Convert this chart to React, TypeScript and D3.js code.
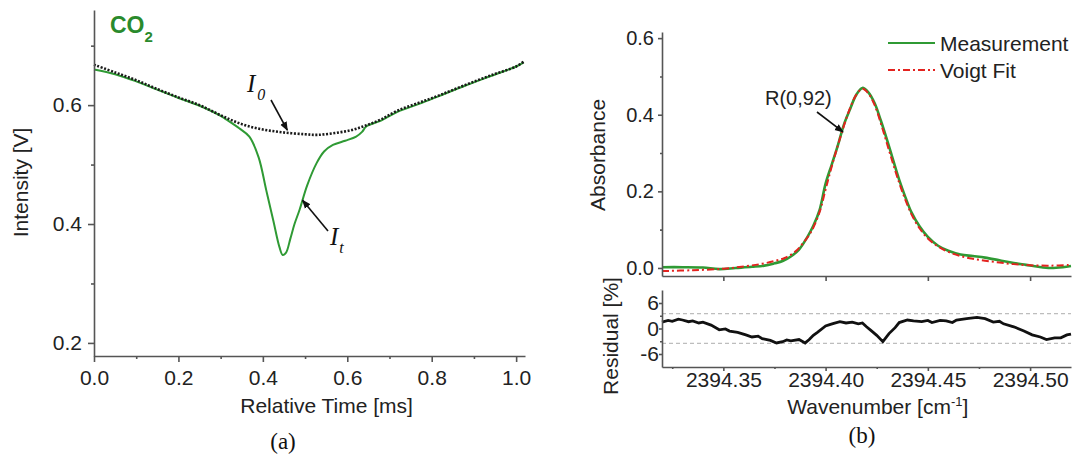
import React, { useEffect, useRef } from 'react';
import * as d3 from 'd3';

// panel (a): transmitted intensity vs relative time
const timeI0 = [0, 0.05, 0.1, 0.15, 0.2, 0.25, 0.3, 0.35, 0.4, 0.45, 0.5, 0.53, 0.57, 0.61, 0.645, 0.68, 0.72, 0.77, 0.82, 0.88, 0.94, 1.0, 1.018];
const valI0 = [0.668, 0.655, 0.642, 0.627, 0.613, 0.6, 0.583, 0.568, 0.559, 0.554, 0.551, 0.55, 0.553, 0.558, 0.566, 0.576, 0.591, 0.604, 0.617, 0.634, 0.65, 0.665, 0.673];
const timeIt = [0, 0.05, 0.1, 0.15, 0.2, 0.25, 0.3, 0.313, 0.344, 0.368, 0.39, 0.408, 0.425, 0.439, 0.447, 0.455, 0.465, 0.475, 0.487, 0.505, 0.527, 0.545, 0.566, 0.595, 0.621, 0.635, 0.645, 0.68, 0.72, 0.77, 0.82, 0.88, 0.94, 1.0, 1.018];
const valIt = [0.66, 0.652, 0.64, 0.626, 0.612, 0.599, 0.582, 0.576, 0.561, 0.547, 0.512, 0.457, 0.405, 0.362, 0.348, 0.352, 0.375, 0.4, 0.424, 0.465, 0.502, 0.522, 0.533, 0.54, 0.547, 0.555, 0.564, 0.574, 0.589, 0.602, 0.616, 0.633, 0.649, 0.665, 0.672];
const timeTicks = [0, 0.2, 0.4, 0.6, 0.8, 1.0];
const timeMinor = [0.1, 0.3, 0.5, 0.7, 0.9];
const intensityTicks = [0.2, 0.4, 0.6];
const intensityMinor = [0.3, 0.5, 0.7];

// panel (b): absorbance line and fit
const wnMeas = [2394.32, 2394.33, 2394.34, 2394.348, 2394.356, 2394.364, 2394.37, 2394.375, 2394.379, 2394.383, 2394.387, 2394.391, 2394.394, 2394.397, 2394.4, 2394.403, 2394.406, 2394.409, 2394.412, 2394.415, 2394.418, 2394.421, 2394.424, 2394.427, 2394.43, 2394.433, 2394.436, 2394.439, 2394.442, 2394.446, 2394.45, 2394.455, 2394.46, 2394.466, 2394.472, 2394.478, 2394.485, 2394.492, 2394.498, 2394.504, 2394.51, 2394.516, 2394.52];
const absMeas = [0.002, 0.002, 0.001, -0.003, 0.0, 0.003, 0.006, 0.012, 0.018, 0.03, 0.048, 0.08, 0.11, 0.15, 0.22, 0.27, 0.32, 0.375, 0.415, 0.452, 0.47, 0.458, 0.43, 0.385, 0.335, 0.282, 0.23, 0.185, 0.145, 0.108, 0.081, 0.058, 0.045, 0.035, 0.031, 0.027, 0.02, 0.013, 0.008, 0.003, 0.0, 0.002, 0.005];
const wnFit = [2394.32, 2394.335, 2394.35, 2394.36, 2394.368, 2394.375, 2394.38, 2394.385, 2394.389, 2394.393, 2394.397, 2394.4, 2394.403, 2394.406, 2394.409, 2394.412, 2394.415, 2394.418, 2394.421, 2394.424, 2394.427, 2394.43, 2394.433, 2394.436, 2394.439, 2394.442, 2394.446, 2394.45, 2394.455, 2394.46, 2394.466, 2394.472, 2394.478, 2394.485, 2394.492, 2394.5, 2394.51, 2394.52];
const absFit = [-0.008, -0.006, -0.002, 0.004, 0.01, 0.018, 0.026, 0.042, 0.065, 0.095, 0.145, 0.205, 0.265, 0.32, 0.372, 0.418, 0.452, 0.468, 0.455, 0.425, 0.378, 0.325, 0.272, 0.222, 0.178, 0.14, 0.103, 0.077, 0.056, 0.042, 0.031, 0.024, 0.019, 0.014, 0.01, 0.007, 0.006, 0.008];
const absTicks = [0, 0.2, 0.4, 0.6];
const absMinor = [0.1, 0.3, 0.5];

// residual
const wnRes = [2394.32, 2394.323, 2394.325, 2394.328, 2394.33, 2394.333, 2394.335, 2394.338, 2394.34, 2394.344, 2394.348, 2394.351, 2394.353, 2394.357, 2394.361, 2394.364, 2394.367, 2394.369, 2394.373, 2394.376, 2394.379, 2394.381, 2394.383, 2394.387, 2394.39, 2394.392, 2394.394, 2394.396, 2394.4, 2394.402, 2394.404, 2394.407, 2394.41, 2394.413, 2394.416, 2394.418, 2394.42, 2394.422, 2394.425, 2394.428, 2394.431, 2394.434, 2394.436, 2394.44, 2394.443, 2394.447, 2394.45, 2394.452, 2394.456, 2394.459, 2394.462, 2394.464, 2394.469, 2394.474, 2394.478, 2394.482, 2394.485, 2394.487, 2394.492, 2394.497, 2394.501, 2394.505, 2394.508, 2394.512, 2394.515, 2394.518, 2394.52];
const resVals = [1.5, 1.9, 1.7, 2.2, 2.0, 1.6, 1.8, 1.3, 1.5, 0.8, -0.3, -0.1, -0.6, -0.9, -1.5, -2.0, -1.8, -2.4, -2.8, -3.4, -3.1, -2.7, -2.9, -2.6, -3.4, -2.6, -1.6, -0.9, 0.6, 0.9, 1.2, 1.6, 1.3, 1.5, 1.1, 1.3, 0.4, -0.4, -1.6, -3.1, -1.2, 0.2, 1.4, 2.0, 1.8, 1.6, 1.9, 1.4, 1.9, 1.8, 1.4, 2.0, 2.3, 2.6, 2.3, 1.5, 1.7, 1.1, 0.4, -0.6, -1.5, -2.0, -2.6, -2.2, -2.2, -1.5, -1.3];
const resTicks = [-6, 0, 6];
const resMinor = [-3, 3];
const resBands = [-3.5, 3.5];
const wnTicks = [2394.35, 2394.4, 2394.45, 2394.5];
const wnMinor = [2394.325, 2394.375, 2394.425, 2394.475];
const legendNames = ['Measurement', 'Voigt Fit'];

const GREEN = '#2f9a34';
const RED = '#e3231f';
const AXIS = '#555';
const FONT = 'Liberation Sans, Arial, sans-serif';
const SERIF = 'Liberation Serif, Times New Roman, serif';

const App = () => {
  const ref = useRef<SVGSVGElement>(null);

  useEffect(() => {
    const svg = d3.select(ref.current);
    svg.selectAll('*').remove();

    const defs = svg.append('defs');
    defs.append('marker')
      .attr('id', 'arrow')
      .attr('viewBox', '0 0 10 10')
      .attr('refX', 9).attr('refY', 5)
      .attr('markerWidth', 9).attr('markerHeight', 9)
      .attr('markerUnits', 'userSpaceOnUse')
      .attr('orient', 'auto')
      .append('path').attr('d', 'M0,1 L10,5 L0,9 Z').attr('fill', '#111');

    const styleAxis = (g: any, size: number) => {
      g.select('.domain').attr('stroke', AXIS).attr('stroke-width', 1.6);
      g.selectAll('.tick line').attr('stroke', AXIS).attr('stroke-width', 1.6);
      g.selectAll('.tick text').attr('fill', '#222').style('font-family', FONT).style('font-size', size + 'px');
    };

    // ---------- panel (a) ----------
    const xA = d3.scaleLinear().domain([0, 1.021]).range([94, 525]);
    const yA = d3.scaleLinear().domain([0.178, 0.76]).range([356, 10]);

    const lineA = d3.line<[number, number]>().x(d => xA(d[0])).y(d => yA(d[1])).curve(d3.curveCatmullRom);

    svg.append('path')
      .datum(timeIt.map((t, i) => [t, valIt[i]] as [number, number]))
      .attr('fill', 'none').attr('stroke', GREEN).attr('stroke-width', 2)
      .attr('d', lineA);
    svg.append('path')
      .datum(timeI0.map((t, i) => [t, valI0[i]] as [number, number]))
      .attr('fill', 'none').attr('stroke', '#1a1a1a').attr('stroke-width', 2.6)
      .attr('stroke-dasharray', '2,1.6')
      .attr('d', lineA);

    const axA = svg.append('g').attr('transform', 'translate(0,356)')
      .call(d3.axisBottom(xA).tickValues(timeTicks).tickSize(6).tickSizeOuter(0).tickPadding(8).tickFormat(d3.format('.1f')));
    styleAxis(axA, 21);
    const axAm = svg.append('g').attr('transform', 'translate(0,356)')
      .call(d3.axisBottom(xA).tickValues(timeMinor).tickSize(3).tickSizeOuter(0).tickFormat(() => ''));
    styleAxis(axAm, 21);
    axAm.select('.domain').remove();

    const ayA = svg.append('g').attr('transform', 'translate(94,0)')
      .call(d3.axisLeft(yA).tickValues(intensityTicks).tickSize(6).tickSizeOuter(0).tickPadding(6).tickFormat(d3.format('.1f')));
    styleAxis(ayA, 21);
    const ayAm = svg.append('g').attr('transform', 'translate(94,0)')
      .call(d3.axisLeft(yA).tickValues(intensityMinor).tickSize(3).tickSizeOuter(0).tickFormat(() => ''));
    styleAxis(ayAm, 21);
    ayAm.select('.domain').remove();

    svg.append('text').attr('x', xA(0.551)).attr('y', 413).attr('text-anchor', 'middle')
      .style('font-family', FONT).style('font-size', '21px').attr('fill', '#222')
      .text('Relative Time [ms]');
    svg.append('text').attr('transform', `translate(28,${yA(0.47)}) rotate(-90)`).attr('text-anchor', 'middle')
      .style('font-family', FONT).style('font-size', '21px').attr('fill', '#222')
      .text('Intensity [V]');
    svg.append('text').attr('x', 283).attr('y', 449).attr('text-anchor', 'middle')
      .style('font-family', SERIF).style('font-size', '23px').attr('fill', '#111').text('(a)');

    const co2 = svg.append('text').attr('x', 110).attr('y', 33)
      .style('font-family', FONT).style('font-size', '23px').style('font-weight', 'bold').attr('fill', '#2a8a2c');
    co2.append('tspan').text('CO');
    co2.append('tspan').attr('dy', 9).style('font-size', '15px').text('2');

    // I0 annotation
    const i0 = svg.append('text').attr('x', 247).attr('y', 92)
      .style('font-family', SERIF).style('font-size', '25px').style('font-style', 'italic').attr('fill', '#111');
    i0.append('tspan').text('I');
    i0.append('tspan').attr('dx', 2).attr('dy', 8).style('font-size', '16px').text('0');
    svg.append('line').attr('x1', 271).attr('y1', 100).attr('x2', xA(0.458)).attr('y2', yA(0.558))
      .attr('stroke', '#111').attr('stroke-width', 1.6).attr('marker-end', 'url(#arrow)');

    // It annotation
    const it = svg.append('text').attr('x', 330).attr('y', 245)
      .style('font-family', SERIF).style('font-size', '25px').style('font-style', 'italic').attr('fill', '#111');
    it.append('tspan').text('I');
    it.append('tspan').attr('dx', 1).attr('dy', 8).style('font-size', '16px').text('t');
    svg.append('line').attr('x1', 328).attr('y1', 231).attr('x2', xA(0.494)).attr('y2', yA(0.44))
      .attr('stroke', '#111').attr('stroke-width', 1.6).attr('marker-end', 'url(#arrow)');

    // ---------- panel (b) top ----------
    const xB = d3.scaleLinear().domain([2394.32, 2394.52]).range([662, 1071]);
    const yB = d3.scaleLinear().domain([-0.021, 0.616]).range([276, 32]);
    const lineB = d3.line<[number, number]>().x(d => xB(d[0])).y(d => yB(d[1])).curve(d3.curveCatmullRom);

    svg.append('path')
      .datum(wnMeas.map((w, i) => [w, absMeas[i]] as [number, number]))
      .attr('fill', 'none').attr('stroke', GREEN).attr('stroke-width', 2.6)
      .attr('d', lineB);
    svg.append('path')
      .datum(wnFit.map((w, i) => [w, absFit[i]] as [number, number]))
      .attr('fill', 'none').attr('stroke', RED).attr('stroke-width', 2)
      .attr('stroke-dasharray', '7,3,2,3')
      .attr('d', lineB);

    const axB = svg.append('g').attr('transform', 'translate(0,276)')
      .call(d3.axisBottom(xB).tickValues(wnTicks).tickSize(5).tickSizeOuter(0).tickFormat(() => ''));
    styleAxis(axB, 21);
    const ayB = svg.append('g').attr('transform', 'translate(662,0)')
      .call(d3.axisLeft(yB).tickValues(absTicks).tickSize(4).tickSizeOuter(0).tickPadding(4).tickFormat(d3.format('.1f')));
    styleAxis(ayB, 20);
    const ayBm = svg.append('g').attr('transform', 'translate(662,0)')
      .call(d3.axisLeft(yB).tickValues(absMinor).tickSize(2).tickSizeOuter(0).tickFormat(() => ''));
    styleAxis(ayBm, 20);
    ayBm.select('.domain').remove();

    svg.append('text').attr('transform', `translate(605,${yB(0.295)}) rotate(-90)`).attr('text-anchor', 'middle')
      .style('font-family', FONT).style('font-size', '21px').attr('fill', '#222')
      .text('Absorbance');

    svg.append('text').attr('x', 765).attr('y', 105)
      .style('font-family', FONT).style('font-size', '20px').attr('fill', '#222').text('R(0,92)');
    svg.append('line').attr('x1', 817).attr('y1', 112).attr('x2', xB(2394.4085)).attr('y2', yB(0.355))
      .attr('stroke', '#111').attr('stroke-width', 1.6).attr('marker-end', 'url(#arrow)');

    // legend
    const legend = svg.append('g');
    legendNames.forEach((name, i) => {
      const ly = 43 + i * 27;
      legend.append('line').attr('x1', 888).attr('x2', 935).attr('y1', ly).attr('y2', ly)
        .attr('stroke', i === 0 ? GREEN : RED).attr('stroke-width', 2)
        .attr('stroke-dasharray', i === 0 ? null : '7,3,2,3');
      legend.append('text').attr('x', 940).attr('y', ly + 8)
        .style('font-family', FONT).style('font-size', '21px').attr('fill', '#222').text(name);
    });

    // ---------- panel (b) residual ----------
    const yR = d3.scaleLinear().domain([-9.06, 9.06]).range([367, 290]);

    resBands.forEach(v => {
      svg.append('line').attr('x1', 662).attr('x2', 1071).attr('y1', yR(v)).attr('y2', yR(v))
        .attr('stroke', '#bdbdbd').attr('stroke-width', 1.2).attr('stroke-dasharray', '4,3');
    });

    svg.append('path')
      .datum(wnRes.map((w, i) => [w, resVals[i]] as [number, number]))
      .attr('fill', 'none').attr('stroke', '#111').attr('stroke-width', 2.8)
      .attr('d', d3.line<[number, number]>().x(d => xB(d[0])).y(d => yR(d[1])));

    const axR = svg.append('g').attr('transform', 'translate(0,367)')
      .call(d3.axisBottom(xB).tickValues(wnTicks).tickSize(4).tickSizeOuter(0).tickPadding(1).tickFormat(d3.format('.2f')));
    styleAxis(axR, 21);
    const axRm = svg.append('g').attr('transform', 'translate(0,367)')
      .call(d3.axisBottom(xB).tickValues(wnMinor).tickSize(2).tickSizeOuter(0).tickFormat(() => ''));
    styleAxis(axRm, 21);
    axRm.select('.domain').remove();

    const ayR = svg.append('g').attr('transform', 'translate(662,0)')
      .call(d3.axisLeft(yR).tickValues(resTicks).tickSize(3).tickSizeOuter(0).tickPadding(0).tickFormat(d => String(d)));
    styleAxis(ayR, 21);
    const ayRm = svg.append('g').attr('transform', 'translate(662,0)')
      .call(d3.axisLeft(yR).tickValues(resMinor).tickSize(2).tickSizeOuter(0).tickFormat(() => ''));
    styleAxis(ayRm, 21);
    ayRm.select('.domain').remove();

    svg.append('text').attr('transform', `translate(618,336) rotate(-90)`).attr('text-anchor', 'middle')
      .style('font-family', FONT).style('font-size', '21px').attr('fill', '#222')
      .text('Residual [%]');

    const wt = svg.append('text').attr('x', xB(2394.4255)).attr('y', 414).attr('text-anchor', 'middle')
      .style('font-family', FONT).style('font-size', '21px').attr('fill', '#222');
    wt.append('tspan').text('Wavenumber [cm');
    wt.append('tspan').attr('dy', -8).style('font-size', '13px').text('-1');
    wt.append('tspan').attr('dy', 8).text(']');

    svg.append('text').attr('x', 862).attr('y', 443).attr('text-anchor', 'middle')
      .style('font-family', SERIF).style('font-size', '23px').attr('fill', '#111').text('(b)');
  }, []);

  return (
    <svg ref={ref} width={1072} height={457}
      style={{ position: 'absolute', left: 0, top: 0, background: '#fff' }} />
  );
};

export default App;
